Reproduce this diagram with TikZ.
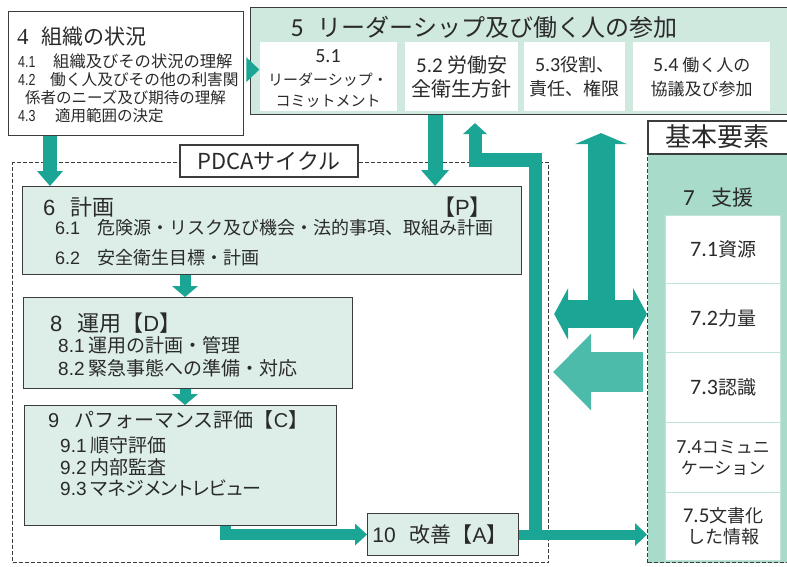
\documentclass[tikz,border=0pt]{standalone}
\usepackage{fontspec}
\setmainfont{Noto Sans CJK JP}
\newfontfamily\pfont{Noto Sans CJK JP}[RawFeature=+palt]
\newfontfamily\arialfont{Liberation Sans}
\newfontfamily\condfont{Liberation Sans}[FakeStretch=0.78]
\newfontfamily\calfont{Carlito}
\newfontfamily\tnrfont{Liberation Serif}
\usetikzlibrary{arrows.meta,calc}

\definecolor{tealc}{HTML}{1AA595}
\definecolor{teall}{HTML}{4CBBA9}
\definecolor{boxg}{HTML}{DCEEE7}
\definecolor{fiveg}{HTML}{D0E9DF}
\definecolor{kihong}{HTML}{A9DBCA}
\definecolor{sepg}{HTML}{C2E4D7}
\definecolor{ink}{HTML}{2A2A2A}
\definecolor{edge}{HTML}{3C3C3C}

\newcommand{\fsz}[2]{\fontsize{#1}{#2}\selectfont}

\tikzset{
  box/.style={draw=edge,line width=1.1pt,fill=boxg,inner sep=0pt,anchor=north west},
  wbox/.style={fill=white,inner sep=0pt,anchor=north west,align=center,text=ink},
  sub7/.style={wbox,draw=sepg,line width=1.2pt,minimum width=115pt},
  tx/.style={inner sep=0pt,anchor=west,text=ink},
  btx/.style={inner sep=0pt,anchor=base west,text=ink},
  ctx/.style={inner sep=0pt,align=center,text=ink},
  dashframe/.style={draw=edge,line width=1.2pt,dash pattern=on 4pt off 2pt,inner sep=0pt,anchor=north west},
  tarr/.style n args={3}{draw=tealc,line width=#1,-{Triangle[width=#2,length=#3,line width=0pt]}}
}

\begin{document}
\begin{tikzpicture}[x=1pt,y=-1pt]
\useasboundingbox (0,0) rectangle (787,567);
\fill[white] (0,0) rectangle (787,567);
\clip (0,0) rectangle (787,567);

% ---- right frame: basic elements
\node[dashframe,fill=kihong,minimum width=160pt,minimum height=409pt] (kf) at (647,153) {};
\node[sub7,minimum height=68pt,font=\fsz{19}{22}] (s71) at (665,215) {{\calfont\fsz{22}{22}7.1}資源};
\node[sub7,minimum height=69pt,font=\fsz{19}{22}] (s72) at (665,283) {{\calfont\fsz{22}{22}7.2}力量};
\node[sub7,minimum height=70pt,font=\fsz{19}{22}] (s73) at (665,352) {{\calfont\fsz{22}{22}7.3}認識};
\node[sub7,minimum height=70pt,font=\fsz{17}{21}] (s74) at (665,422) {{\calfont\fsz{20}{21}7.4}コミュニ\\ケーション};
\node[sub7,minimum height=68pt,font=\fsz{18}{21}] (s75) at (665,492) {{\calfont\fsz{21}{21}7.5}文書化\\した情報};
\node[tx,font=\fsz{21}{21}] (t7) at (683,198) {{\calfont\fsz{23}{23}7}\hspace{17pt}支援};
\node[draw=edge,line width=2.4pt,fill=white,anchor=north west,minimum width=150pt,minimum height=33pt,inner sep=0pt] (kl) at (647,120) {};
\node[ctx,font=\fsz{26}{26}] (klt) at (717,137) {基本要素};

% ---- PDCA frame
\node[dashframe,minimum width=536pt,minimum height=400pt] (pf) at (12,162) {};

% ---- box 4
\node[box,fill=white,line width=1.3pt,minimum width=235pt,minimum height=124pt] (b4) at (8,11) {};
\node[tx,font=\fsz{21}{21}] (t4) at (17,37) {{\tnrfont\fsz{23}{23}4}\hspace{13pt}組織の状況};
\node[btx,font=\condfont\fsz{16}{16}] (n41) at (18,68) {4.1};
\node[btx,font=\fsz{16.3}{16.3}] (t41) at (53,68) {組織及びその状況の理解};
\node[btx,font=\condfont\fsz{16}{16}] (n42) at (18,86) {4.2};
\node[btx,font=\fsz{15.7}{15.7}] (t42) at (50,86) {働く人及びその他の利害関};
\node[btx,font=\fsz{15.5}{15.5}] (t42b) at (25,104) {係者のニーズ及び期待の理解};
\node[btx,font=\condfont\fsz{16}{16}] (n43) at (18,122) {4.3};
\node[btx,font=\fsz{15.5}{15.5}] (t43) at (55,122) {適用範囲の決定};

% ---- box 5
\node[box,fill=fiveg,minimum width=545pt,minimum height=107pt] (b5) at (250,7) {};
\node[ctx,font=\fsz{24}{24}] (t5) at (484,27) {{\calfont\fsz{26}{26}5}\hspace{14pt}リーダーシップ及び働く人の参加};
\node[wbox,minimum width=137pt,minimum height=69pt] (s51) at (260,42) {};
\node[inner sep=0pt,anchor=base,text=ink,font=\calfont\fsz{20}{20}] (s51a) at (328,63) {5.1};
\node[ctx,font=\fsz{15}{15}] (s51b) at (328,80) {リーダーシップ・};
\node[ctx,font=\fsz{15}{15}] (s51c) at (328,101) {コミットメント};
\node[wbox,minimum width=113pt,minimum height=69pt,font=\fsz{20}{24}] (s52) at (405,42) {{\calfont\fsz{21}{24}5.2} 労働安\\全衛生方針};
\node[wbox,minimum width=101pt,minimum height=69pt,font=\fsz{18}{24}] (s53) at (524,42) {{\calfont\fsz{20}{24}5.3}役割、\\責任、権限};
\node[wbox,minimum width=137pt,minimum height=69pt,font=\fsz{17}{24}] (s54) at (633,42) {{\calfont\fsz{20}{24}5.4} 働く人の\\協議及び参加};

% ---- PDCA label
\node[draw=edge,line width=1.8pt,fill=white,minimum width=178pt,minimum height=32pt,inner sep=0pt,font=\fsz{22}{22},text=ink] (pl) at (269,161) {PDCAサイクル};

% ---- box 6
\node[box,minimum width=499pt,minimum height=88pt] (b6) at (22,186) {};
\node[tx,font=\fsz{22}{22}] (t6) at (43,207) {{\arialfont 6}\hspace{15pt}計画};
\node[anchor=east,inner sep=0pt,font=\fsz{22}{22},text=ink] (t6p) at (492,207) {【{\arialfont P}】};
\node[tx,font=\fsz{18}{18}] (t61) at (55,228) {{\arialfont 6.1}\hspace{17pt}危険源・リスク及び機会・法的事項、取組み計画};
\node[tx,font=\fsz{18}{18}] (t62) at (55,258) {{\arialfont 6.2}\hspace{17pt}安全衛生目標・計画};

% ---- box 8
\node[box,minimum width=329pt,minimum height=91pt] (b8) at (23,297) {};
\node[tx,font=\fsz{22}{22}] (t8) at (50,323) {{\arialfont 8}\hspace{15pt}運用【{\arialfont D}】};
\node[tx,font=\fsz{19}{19}] (t81) at (58,345) {{\arialfont 8.1}\hspace{4pt}運用の計画・管理};
\node[tx,font=\fsz{19}{19}] (t82) at (58,368) {{\arialfont 8.2}\hspace{4pt}緊急事態への準備・対応};

% ---- box 9
\node[box,minimum width=312pt,minimum height=120pt] (b9) at (24,405) {};
\node[tx,font=\fsz{20}{20}] (t9) at (48,420) {{\arialfont 9}\hspace{15pt}パフォーマンス評価【{\arialfont C}】};
\node[tx,font=\fsz{19}{19}] (t91) at (60,445) {{\arialfont 9.1}\hspace{4pt}順守評価};
\node[tx,font=\fsz{19}{19}] (t92) at (60,467) {{\arialfont 9.2}\hspace{4pt}内部監査};
\node[tx,font=\fsz{19}{19}] (t93) at (60,488) {{\arialfont 9.3}\hspace{4pt}{\pfont マネジメントレビュー}};

% ---- box 10
\node[box,minimum width=151pt,minimum height=42pt] (b10) at (367,513) {};
\node[ctx,font=\fsz{21}{21}] (t10) at ($(b10.center)+(-3,0)$) {{\arialfont 10}\hspace{14pt}改善【{\arialfont A}】};

% ---- connectors
\coordinate (J) at (601,314);
\coordinate (L) at (601,372);
\coordinate (K) at ($(b10.east)+(16,0)$);
\coordinate (U) at (475,160);
\coordinate (N) at ($(b9.south west)+(201,0)$);

% 4 -> 5
\draw[draw=tealc,line width=1pt,-{Triangle[width=25pt,length=13pt,line width=0pt]}] ([xshift=2pt,yshift=4pt]b4.east) -- ([xshift=15pt,yshift=4pt]b4.east);
% 4 -> 6
\draw[tarr={14pt}{26pt}{15pt}] ([xshift=42pt]b4.south west) -- ([xshift=42pt]b4.south west |- b6.north);
% 5 -> 6
\draw[tarr={15pt}{28pt}{16pt}] ([xshift=185pt]b5.south west) -- ([xshift=185pt]b5.south west |- b6.north);
% 6 -> 8 -> 9
\draw[tarr={11pt}{26pt}{11pt}] ([xshift=163pt]b6.south west) -- ([xshift=163pt]b6.south west |- b8.north);
\draw[tarr={11pt}{26pt}{11pt}] ([xshift=162pt]b8.south west) -- ([xshift=162pt]b8.south west |- b9.north);
% 9 -> 10
\draw[tarr={11pt}{22pt}{12pt}] (N) |- (b10.west);
% 10 -> basic elements
\draw[tarr={10pt}{23pt}{12pt}] (b10.east) -- (kf.west |- b10.east);
% 10 -> up to 5
\draw[draw=tealc,line width=13pt,-{Triangle[width=24pt,length=11pt,line width=0pt]}] (K) |- (U) -- ($(b5.south -| U)+(0,8)$);
% basic elements -> PDCA (light)
\draw[draw=teall,line width=40pt,-{Triangle[width=77pt,length=38pt,line width=0pt]}] ($(kf.west |- L)+(-4,0)$) -- ($(pf.east |- L)+(4,0)$);
% double arrow PDCA <-> basic elements
\draw[draw=tealc,line width=28pt,{Triangle[width=52pt,length=14pt,line width=0pt]}-{Triangle[width=52pt,length=14pt,line width=0pt]}] ($(pf.east |- J)+(5,0)$) -- (kf.west |- J);
% up to 5
\draw[draw=tealc,line width=27pt,-{Triangle[width=52pt,length=11pt,line width=0pt]}] (J) -- ($(b5.south -| J)+(0,18)$);
\end{tikzpicture}
\end{document}
